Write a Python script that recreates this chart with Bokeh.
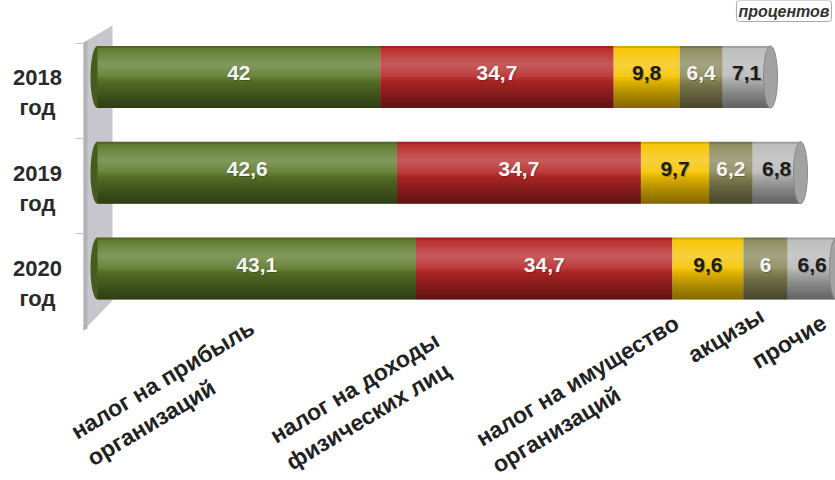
import math
from bokeh.plotting import figure
from bokeh.models import Range1d, Label, ColumnDataSource
from bokeh.embed import file_html
from bokeh.resources import INLINE
from bokeh.core.properties import value

# ---- data ----
years = ["2018", "2019", "2020"]
year_suffix = "год"
categories = [
    "налог на прибыль\nорганизаций",
    "налог на доходы\nфизических лиц",
    "налог на имущество\nорганизаций",
    "акцизы",
    "прочие",
]
profit_tax = [42.0, 42.6, 43.1]
income_tax = [34.7, 34.7, 34.7]
property_tax = [9.8, 9.7, 9.6]
excises = [6.4, 6.2, 6.0]
other = [7.1, 6.8, 6.6]
unit_label = "процентов"

series = [profit_tax, income_tax, property_tax, excises, other]

# ---- style ----
colors = ["#5d7a2c", "#bb2a2a", "#f7c600", "#8e8b5c", "#bdbdbd"]
label_colors = ["#f4f4f4", "#f4f4f4", "#1c1c1c", "#f4f4f4", "#1c1c1c"]
end_cap_left = "#465e1c"
end_cap_right = "#a2a2a2"
FONT = value("Liberation Sans")

W, H = 835, 480
origin_px = 97                   # where 0 % sits
row_scale = [6.73, 7.03, 7.39]   # px per percent (perspective widening)
row0_px, row_px = 76.5, 95.75
bar_h = 0.65

# nested translucent overlays giving a cylinder look: (from_frac, to_frac, colour, alpha)
shading = [(0.0, 0.035, "black", 0.15)]
for k in range(10):
    hw = 0.26 * (1 - k / 10)
    shading.append((0.30 - hw, 0.30 + hw, "white", 0.028))
for k in range(20):
    shading.append((0.50 + 0.025 * k, 1.0, "black", 0.026))

p = figure(width=W, height=H, x_range=Range1d(0, W), y_range=Range1d(H, 0),
           x_axis_type=None, y_axis_type=None, toolbar_location=None,
           output_backend="svg", min_border=0, outline_line_color=None,
           background_fill_color="white", border_fill_color="white")

for i, s in enumerate(row_scale):
    p.extra_x_ranges[f"r{i}"] = Range1d(-origin_px / s, (W - origin_px) / s)
p.extra_y_ranges["rows"] = Range1d((H - row0_px) / row_px, -row0_px / row_px)

# back wall
p.patch(x=[83, 112, 112, 83], y=[42, 25, 300, 330], fill_color="#c6c6cc",
        line_color=None)
p.patch(x=[83, 87, 87, 83], y=[42, 40, 328, 330], fill_color="#b2b2b8",
        line_color=None)
for ty in [43, 138, 233]:
    p.line(x=[75, 84], y=[ty, ty], line_color="#c4c4c4", line_width=1)

for i, yr in enumerate(years):
    vals = [ser[i] for ser in series]
    lefts, rights = [], []
    acc = 0.0
    for v in vals:
        lefts.append(acc)
        acc += v
        rights.append(acc)
    total = acc
    xr = f"r{i}"
    # left rounded end
    p.ellipse(x=[0], y=[i], width=14, width_units="screen", height=bar_h,
              height_units="data", fill_color=end_cap_left, line_color=None,
              x_range_name=xr, y_range_name="rows")
    src = ColumnDataSource(dict(
        y=[i] * len(vals), left=lefts, right=rights, color=colors,
        mid=[(a + b) / 2 for a, b in zip(lefts, rights)],
        ly=[i - 0.04] * len(vals),
        label=[f"{v:g}".replace(".", ",") for v in vals],
        lc=label_colors,
    ))
    p.hbar(y="y", left="left", right="right", height=bar_h, fill_color="color",
           line_color=None, source=src, x_range_name=xr, y_range_name="rows")
    ys = [i - bar_h / 2 + bar_h * (a + b) / 2 for a, b, _, _ in shading]
    hs = [bar_h * (b - a) for a, b, _, _ in shading]
    p.hbar(y=ys, left=[0] * len(shading), right=[total] * len(shading),
           height=hs, fill_color=[c for _, _, c, _ in shading],
           fill_alpha=[al for _, _, _, al in shading], line_color=None,
           x_range_name=xr, y_range_name="rows")
    # right end cap
    p.ellipse(x=[total], y=[i], width=14, width_units="screen", height=bar_h,
              height_units="data", fill_color=end_cap_right,
              line_color="#8a8a8a", line_width=1,
              x_range_name=xr, y_range_name="rows")
    # value labels (shadow + text)
    p.text(x="mid", y="ly", text="label", text_color="#000000", text_alpha=0.25,
           x_offset=1, y_offset=1, text_align="center", text_baseline="middle",
           text_font=FONT, text_font_style="bold", text_font_size="21px",
           source=src, x_range_name=xr, y_range_name="rows")
    p.text(x="mid", y="ly", text="label", text_color="lc",
           text_align="center", text_baseline="middle",
           text_font=FONT, text_font_style="bold", text_font_size="21px",
           source=src, x_range_name=xr, y_range_name="rows")

# year labels
p.text(x=[37] * len(years), y=[k + 0.16 for k in range(len(years))],
       text=[f"{y}\n{year_suffix}" for y in years], text_align="center",
       text_baseline="middle", text_color="#2a2a2a", text_font=FONT,
       text_font_style="bold", text_font_size="22px", text_line_height=1.2,
       y_range_name="rows")

# category labels (slanted, left-aligned, below bars)
theta = 0.54
fsz = 23
line_h = 1.2
# baseline start point of first line for each label
base_x = [77, 276, 482, 693, 757]
base_y = [440, 444, 447, 362, 368]
anc_x, anc_y = [], []
for bx, by, txt in zip(base_x, base_y, categories):
    n_lines = txt.count("\n") + 1
    shift = (n_lines - 1) * fsz * line_h / 2 - 0.3 * fsz   # along "down" direction
    anc_x.append(bx + math.sin(theta) * shift)
    anc_y.append(by + math.cos(theta) * shift)
p.text(x=anc_x, y=anc_y, text=categories, angle=theta, text_align="left",
       text_baseline="middle", text_color="#222222", text_font=FONT,
       text_font_style="bold", text_font_size=f"{fsz}px",
       text_line_height=line_h)

# unit box top right
p.add_layout(Label(x=831, y=0, text=unit_label, text_align="right",
                   text_baseline="top", text_font="Liberation Sans",
                   text_font_style="bold italic", text_font_size="16px",
                   text_color="#333333", background_fill_color="white",
                   border_line_color="#a8a8a8", border_line_width=1,
                   padding=2, border_radius=3))

open("out.html", "w").write(file_html(p, INLINE))
